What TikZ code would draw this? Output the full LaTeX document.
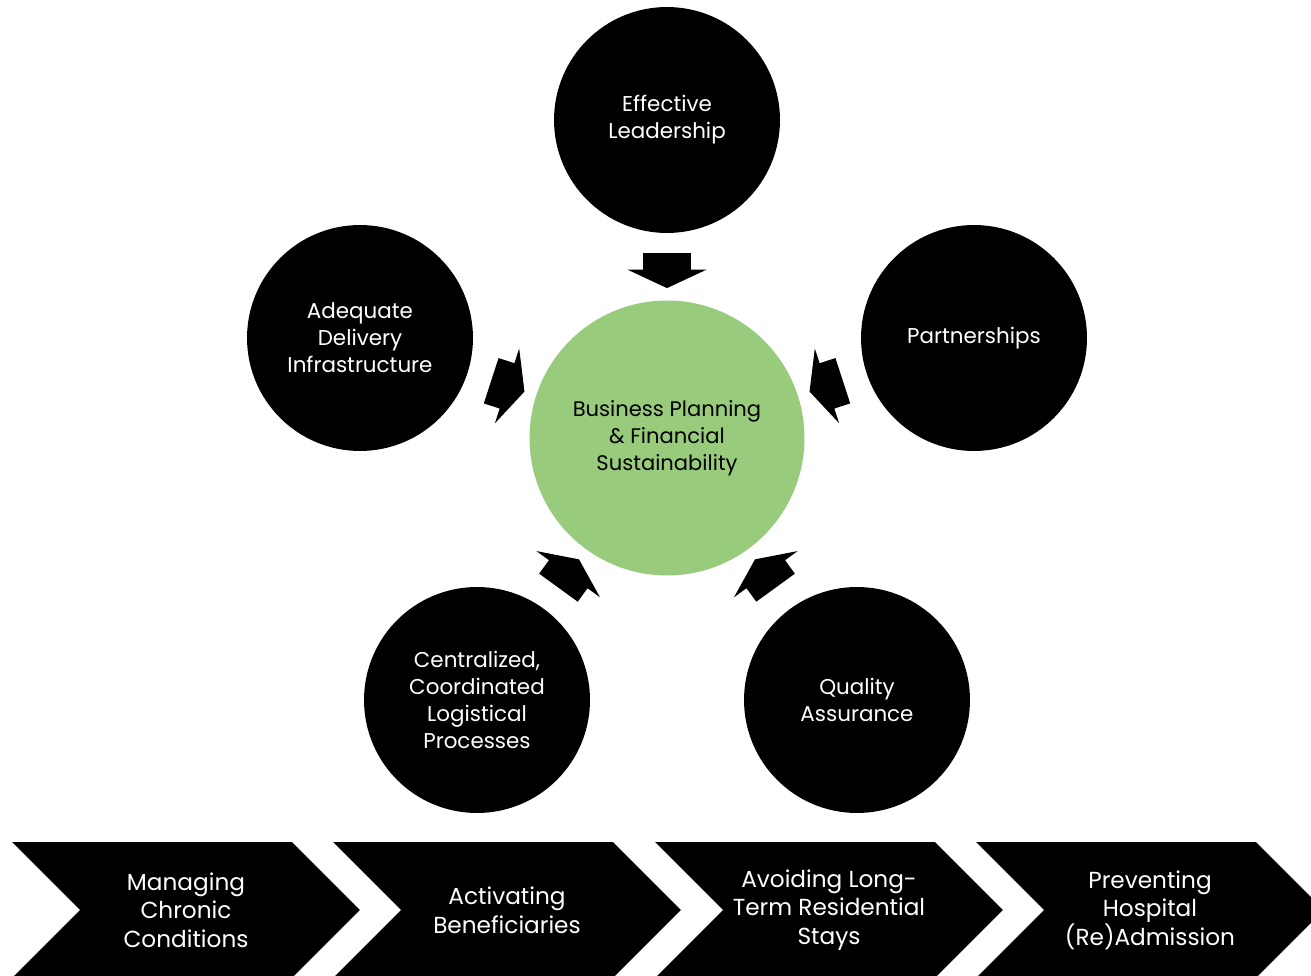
\documentclass[tikz,border=0pt]{standalone}
\usepackage{fontspec}
\setmainfont{Poppins}
\usetikzlibrary{shapes.arrows, shapes.symbols, calc}
\definecolor{leafgreen}{HTML}{98CB7C}

\begin{document}
\begin{tikzpicture}[x=0.02cm, y=-0.02cm]

\tikzset{pillar/.style = {shape=circle, fill=black, text=white, minimum size=4.52cm, align=center, font=\fontsize{12.2}{15.4}\selectfont}}
\tikzset{core/.style = {shape=circle, fill=leafgreen, minimum size=5.5cm, align=center, font=\fontsize{12}{15.4}\selectfont}}
\tikzset{push/.style = {single arrow, fill=black, inner xsep=0pt, inner ysep=0.47cm, minimum height=0.7cm, single arrow head extend=0.31cm, single arrow tip angle=130}}
\tikzset{stage/.style = {signal, signal to=east, signal from=west, signal pointer angle=90, fill=black, text=white, inner sep=0pt, minimum width=6.96cm, minimum height=2.72cm, align=center, font=\fontsize{13.2}{16.3}\selectfont}}

\useasboundingbox (0,0) rectangle (1311,976);
\clip (0,0) rectangle (1311,976);

%circles
\node[core] (bp) at (667,438) {Business Planning\\\& Financial\\Sustainability};
\node[pillar] (lead) at (667,120) {Effective\\Leadership};
\node[pillar] (infra) at (360,338) {Adequate\\Delivery\\Infrastructure};
\node[pillar] (part) at (974,338) {Partnerships};
\node[pillar] (logi) at (477,700) {Centralized,\\Coordinated\\Logistical\\Processes};
\node[pillar] (qual) at (857,700) {Quality\\Assurance};

%arrows
\node[push, rotate=270] (a1) at ($(bp)!3.46cm!(lead)$) {};
\node[push, rotate=-18] (a2) at ($(bp)!3.46cm!(infra)$) {};
\node[push, rotate=198] (a3) at ($(bp)!3.46cm!(part)$) {};
\node[push, rotate=54] (a4) at ($(bp)!3.46cm!(logi)$) {};
\node[push, rotate=126] (a5) at ($(bp)!3.46cm!(qual)$) {};

%chevrons
\node[stage] (s1) at (186,910) {Managing\\Chronic\\Conditions};
\node[stage] (s2) at (507,910) {Activating\\Beneficiaries};
\node[stage] (s3) at (829,910) {Avoiding Long-\\Term Residential\\Stays};
\node[stage] (s4) at (1150,910) {Preventing\\Hospital\\(Re)Admission};

\end{tikzpicture}
\end{document}
